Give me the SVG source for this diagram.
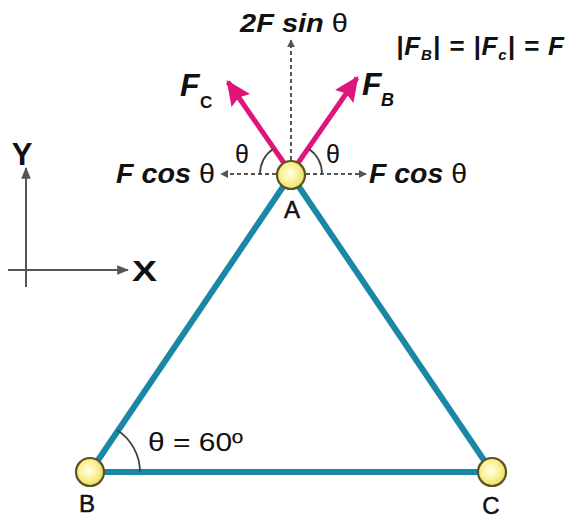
<svg xmlns="http://www.w3.org/2000/svg" width="572" height="518" viewBox="0 0 572 518">
<defs>
<radialGradient id="jg" cx="0.45" cy="0.45" r="0.6">
<stop offset="0" stop-color="#fffff0"/>
<stop offset="0.5" stop-color="#fbf29a"/>
<stop offset="1" stop-color="#e8d860"/>
</radialGradient>
<marker id="mag" viewBox="0 0 10 10" refX="9" refY="5" markerWidth="25" markerHeight="25" orient="auto" markerUnits="userSpaceOnUse">
<path d="M0,0.5 L10,5 L0,9.5 L1.5,5 z" fill="#e0157a"/>
</marker>
<marker id="gr" viewBox="0 0 10 10" refX="9" refY="5" markerWidth="8" markerHeight="8" orient="auto" markerUnits="userSpaceOnUse">
<path d="M0,0 L10,5 L0,10 z" fill="#555"/>
</marker>
<marker id="ax" viewBox="0 0 10 10" refX="9" refY="5" markerWidth="12" markerHeight="12" orient="auto" markerUnits="userSpaceOnUse">
<path d="M0,1 L10,5 L0,9 z" fill="#555"/>
</marker>
</defs>
<style>
.bar{stroke:#1b87a6;stroke-width:6;stroke-linecap:round;fill:none}
.joint{fill:url(#jg);stroke:#5a5220;stroke-width:2.2}
.force{stroke:#e0157a;stroke-width:5;fill:none;marker-end:url(#mag)}
.dash{stroke:#555;stroke-width:2;stroke-dasharray:4 3;fill:none;marker-end:url(#gr)}
.arc{stroke:#444;stroke-width:1.8;fill:none}
.axis{stroke:#555;stroke-width:2;fill:none;marker-end:url(#ax)}
.t{font-family:"Liberation Sans",Arial,sans-serif;fill:#111}
.lbl{stroke:#111;stroke-width:0.5}
.bi{font-weight:bold;font-style:italic}
.b{font-weight:bold}
</style>
<g id="connectors">
<line class="bar" x1="291" y1="175" x2="90" y2="472"/>
<line class="bar" x1="291" y1="175" x2="492" y2="472"/>
<line class="bar" x1="90" y1="472" x2="492" y2="472"/>
<line class="force" x1="284" y1="163" x2="228" y2="82"/>
<line class="force" x1="298" y1="163" x2="357" y2="78"/>
<line class="dash" x1="291" y1="160" x2="291" y2="40"/>
<line class="dash" x1="276" y1="174" x2="221" y2="174"/>
<line class="dash" x1="306" y1="174" x2="366" y2="174"/>
<path class="arc" d="M260,174 A31,31 0 0 1 273,149"/>
<path class="arc" d="M309,149 A31,31 0 0 1 322,174"/>
<path class="arc" d="M140,472 A50,50 0 0 0 117,430"/>
<line class="axis" x1="26" y1="287" x2="26" y2="168"/>
<line class="axis" x1="8" y1="270" x2="128" y2="270"/>
</g>
<g id="nodeA">
<circle class="joint" cx="291" cy="175" r="14"/>
<text class="t lbl" x="292" y="218" font-size="24" text-anchor="middle">A</text>
</g>
<g id="nodeB">
<circle class="joint" cx="90" cy="472" r="14"/>
<text class="t lbl" x="87" y="512" font-size="24" text-anchor="middle">B</text>
</g>
<g id="nodeC">
<circle class="joint" cx="492" cy="472" r="14"/>
<text class="t lbl" x="491" y="514" font-size="24" text-anchor="middle">C</text>
</g>
<g id="labels">
<text class="t" x="240" y="32" font-size="26" textLength="108" lengthAdjust="spacingAndGlyphs"><tspan class="bi">2F sin</tspan> θ</text>
<text class="t bi" x="396" y="55" font-size="26" textLength="168" lengthAdjust="spacing">|F<tspan font-size="15" dy="5">B</tspan><tspan dy="-5">| = |F</tspan><tspan font-size="15" dy="5">c</tspan><tspan dy="-5">| = F</tspan></text>
<text class="t bi" x="180" y="96" font-size="32">F</text>
<text class="t b" x="200" y="108" font-size="17">C</text>
<text class="t bi" x="362" y="95" font-size="32">F</text>
<text class="t bi" x="381" y="106" font-size="18">B</text>
<text class="t" x="116" y="183" font-size="27" textLength="99" lengthAdjust="spacingAndGlyphs"><tspan class="bi">F cos</tspan> θ</text>
<text class="t" x="369" y="183" font-size="27" textLength="98" lengthAdjust="spacingAndGlyphs"><tspan class="bi">F cos</tspan> θ</text>
<text class="t" x="235" y="163" font-size="25">θ</text>
<text class="t" x="326" y="163" font-size="25">θ</text>
<text class="t" x="148" y="451" font-size="25" textLength="95" lengthAdjust="spacingAndGlyphs">θ = 60º</text>
<text class="t b" x="22" y="165" font-size="31" text-anchor="middle">Y</text>
<text class="t b" x="132" y="281" font-size="29" textLength="25" lengthAdjust="spacingAndGlyphs">X</text>
</g>
</svg>
